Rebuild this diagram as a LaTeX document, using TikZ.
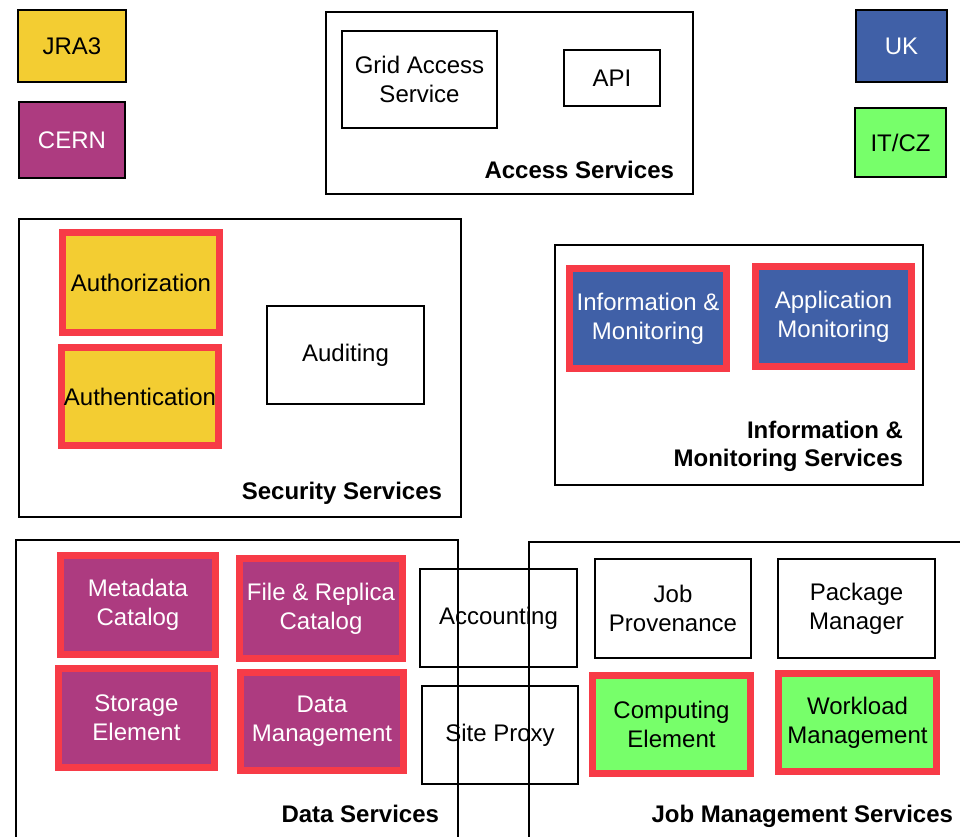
\documentclass[tikz,border=0pt]{standalone}
\usepackage{fontspec}
\setmainfont{Liberation Sans}
\definecolor{cyel}{HTML}{F3CD32}
\definecolor{cpur}{HTML}{AD3B80}
\definecolor{cblu}{HTML}{4060A7}
\definecolor{cgrn}{HTML}{77FF6A}
\definecolor{cred}{HTML}{F73B47}
\begin{document}
\begin{tikzpicture}[x=1pt,y=-1pt,
  every node/.style={font=\fontsize{24}{29}\selectfont, align=center, inner sep=0pt, outer sep=0pt},
  plainbox/.style={draw=black, line width=2pt},
  redbox/.style={draw=cred, line width=7pt},
  keybox/.style={draw=black, line width=2pt},
  grouplabel/.style={font=\fontsize{24}{28}\bfseries\selectfont, anchor=east, align=right}
]
\useasboundingbox (0,0) rectangle (960,836);
\clip (0,0) rectangle (960,836);
% legend
\node[keybox, fill=cyel, minimum width=108pt, minimum height=72pt] (jra) at (72,46) {JRA3};
\node[keybox, fill=cpur, text=white, minimum width=106pt, minimum height=76pt] (cern) at (72,140) {CERN};
\node[keybox, fill=cblu, text=white, minimum width=91pt, minimum height=72pt] (uk) at (901.5,46) {UK};
\node[keybox, fill=cgrn, minimum width=91pt, minimum height=69pt] (itcz) at (900.5,142.5) {IT/CZ};
% Access services
\node[plainbox, minimum width=367pt, minimum height=182pt] (access) at (509.5,103) {};
\node[plainbox, minimum width=155pt, minimum height=97pt] (gas) at (419.5,79.5) {Grid Access\\Service};
\node[plainbox, minimum width=96pt, minimum height=56pt] (api) at (612,78) {API};
\node[grouplabel] (accesslbl) at (674,170) {Access Services};
% Security services
\node[plainbox, minimum width=442pt, minimum height=298pt] (security) at (240,368) {};
\node[redbox, fill=cyel, minimum width=157pt, minimum height=100pt] (authz) at (141,282.5) {Authorization};
\node[redbox, fill=cyel, minimum width=157pt, minimum height=98pt] (authn) at (140,396.5) {Authentication};
\node[plainbox, minimum width=157pt, minimum height=98pt] (audit) at (345.5,355) {Auditing};
\node[grouplabel] (seclbl) at (442,493) {Security Services};
% Information & Monitoring
\node[plainbox, minimum width=368pt, minimum height=240pt] (infoouter) at (739,365) {};
\node[redbox, fill=cblu, text=white, minimum width=157pt, minimum height=100pt] (infomon) at (648,318.5) {Information \&\\Monitoring};
\node[redbox, fill=cblu, text=white, minimum width=156pt, minimum height=100pt] (appmon) at (833.5,316.5) {Application\\Monitoring};
\node[grouplabel] (infolbl) at (903,446) {Information \&\\Monitoring Services};
% Data services
\node[plainbox, minimum width=442pt, minimum height=300pt] (data) at (237,690) {};
\node[redbox, fill=cpur, text=white, minimum width=155pt, minimum height=99pt] (meta) at (138,605) {Metadata\\Catalog};
\node[redbox, fill=cpur, text=white, minimum width=163pt, minimum height=100pt] (frc) at (321,608.5) {File \& Replica\\Catalog};
\node[redbox, fill=cpur, text=white, minimum width=156pt, minimum height=99pt] (se) at (136.5,718) {Storage\\Element};
\node[redbox, fill=cpur, text=white, minimum width=163pt, minimum height=98pt] (dm) at (322,721.5) {Data\\Management};
\node[grouplabel] (datalbl) at (439,814) {Data Services};
% shared
\node[plainbox, minimum width=157pt, minimum height=98pt] (acct) at (498.5,618) {Accounting};
\node[plainbox, minimum width=156pt, minimum height=98pt] (proxy) at (500,735) {Site Proxy};
% Job management
\node[plainbox, minimum width=441pt, minimum height=298pt] (job) at (749.5,691) {};
\node[plainbox, minimum width=156pt, minimum height=99pt] (jp) at (673,608.5) {Job\\Provenance};
\node[plainbox, minimum width=157pt, minimum height=99pt] (pm) at (856.5,608.5) {Package\\Manager};
\node[redbox, fill=cgrn, minimum width=158pt, minimum height=98pt] (ce) at (671.5,724.5) {Computing\\Element};
\node[redbox, fill=cgrn, minimum width=158pt, minimum height=98pt] (wm) at (857.5,722.5) {Workload\\Management};
\node[grouplabel] (joblbl) at (953,816) {Job Management Services};
\end{tikzpicture}
\end{document}
